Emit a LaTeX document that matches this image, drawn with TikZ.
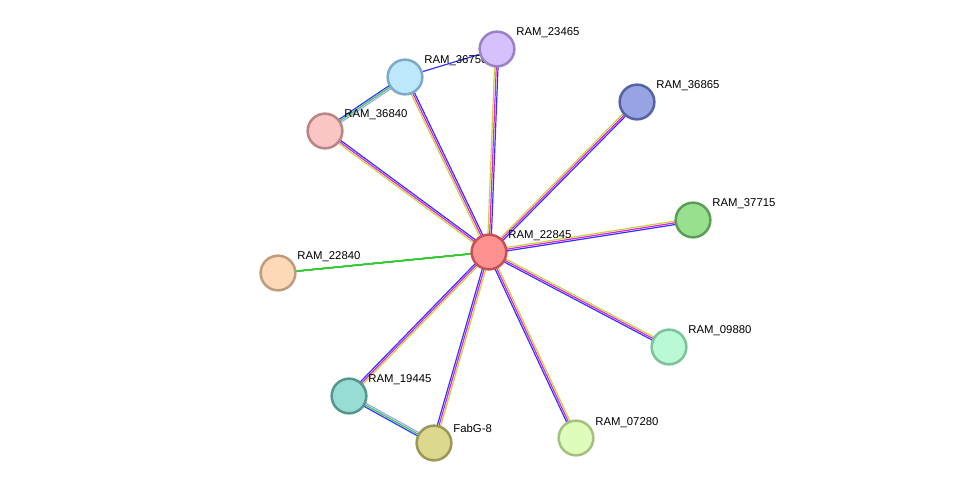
\documentclass[tikz,border=0pt]{standalone}
\usepackage{fontspec}
\setmainfont{Liberation Sans}
\usetikzlibrary{calc,backgrounds}
\definecolor{eblue}{HTML}{3333FF}
\definecolor{emag}{HTML}{E020E0}
\definecolor{eyel}{HTML}{C4D43C}
\definecolor{egreen}{HTML}{33CC33}
\definecolor{elblue}{HTML}{A0A0FF}
\newcommand{\pedge}[3]{%
  \foreach \col/\o in {#3}
    \draw[edge, \col] ($(#1)!\o pt!90:(#2)$) -- ($(#2)!\o pt!-90:(#1)$);}
\begin{document}
\begin{tikzpicture}[x=0.75pt, y=-0.75pt,
  prot/.style={circle, line width=1.9pt, minimum size=26pt, inner sep=0pt},
  lbl/.style={anchor=south west, inner sep=0pt, xshift=4.5pt, yshift=-2pt,
    font=\fontsize{8.5}{10}\selectfont},
  edge/.style={line width=0.9pt}
]
\useasboundingbox (0,0) rectangle (975,489);

% proteins
\node[prot, fill={rgb,255:red,255;green,145;blue,145}, draw={rgb,255:red,200;green,80;blue,80},
  label={[lbl]north east:RAM\_22845}] (c) at (489,252) {};
\node[prot, fill={rgb,255:red,189;green,232;blue,251}, draw={rgb,255:red,127;green,169;blue,196},
  label={[lbl]north east:RAM\_36750}] (r36750) at (405,77) {};
\node[prot, fill={rgb,255:red,213;green,194;blue,252}, draw={rgb,255:red,155;green,130;blue,200},
  label={[lbl]north east:RAM\_23465}] (r23465) at (497,49) {};
\node[prot, fill={rgb,255:red,249;green,197;blue,197}, draw={rgb,255:red,185;green,133;blue,133},
  label={[lbl]north east:RAM\_36840}] (r36840) at (325,131) {};
\node[prot, fill={rgb,255:red,151;green,163;blue,226}, draw={rgb,255:red,85;green,98;blue,163},
  label={[lbl]north east:RAM\_36865}] (r36865) at (637,102) {};
\node[prot, fill={rgb,255:red,152;green,223;blue,142}, draw={rgb,255:red,92;green,158;blue,85},
  label={[lbl]north east:RAM\_37715}] (r37715) at (693,220) {};
\node[prot, fill={rgb,255:red,253;green,217;blue,184}, draw={rgb,255:red,191;green,157;blue,124},
  label={[lbl]north east:RAM\_22840}] (r22840) at (278,273) {};
\node[prot, fill={rgb,255:red,185;green,249;blue,214}, draw={rgb,255:red,124;green,194;blue,154},
  label={[lbl]north east:RAM\_09880}] (r09880) at (669,347) {};
\node[prot, fill={rgb,255:red,151;green,221;blue,212}, draw={rgb,255:red,85;green,150;blue,142},
  label={[lbl]north east:RAM\_19445}] (r19445) at (349,396) {};
\node[prot, fill={rgb,255:red,220;green,217;blue,143}, draw={rgb,255:red,155;green,152;blue,87},
  label={[lbl]north east:FabG-8}] (fabg) at (434,443) {};
\node[prot, fill={rgb,255:red,224;green,252;blue,187}, draw={rgb,255:red,164;green,193;blue,128},
  label={[lbl]north east:RAM\_07280}] (r07280) at (576,438) {};

% interactions
\begin{scope}[on background layer]
\foreach \n in {r36750,r23465,r36840,r36865,r37715,r09880,r19445,fabg,r07280}
  \pedge{c}{\n}{eblue/-1.3,emag/0,eyel/1.3}
\draw[edge, egreen] (c) -- (r22840);
\pedge{r36750}{r36840}{eblue/-1.3,egreen/0,elblue/1.3}
\pedge{r19445}{fabg}{eblue/-1.3,egreen/0,elblue/1.3}
\draw[edge, eblue] (r36750) -- (r23465);
\end{scope}

\end{tikzpicture}
\end{document}
